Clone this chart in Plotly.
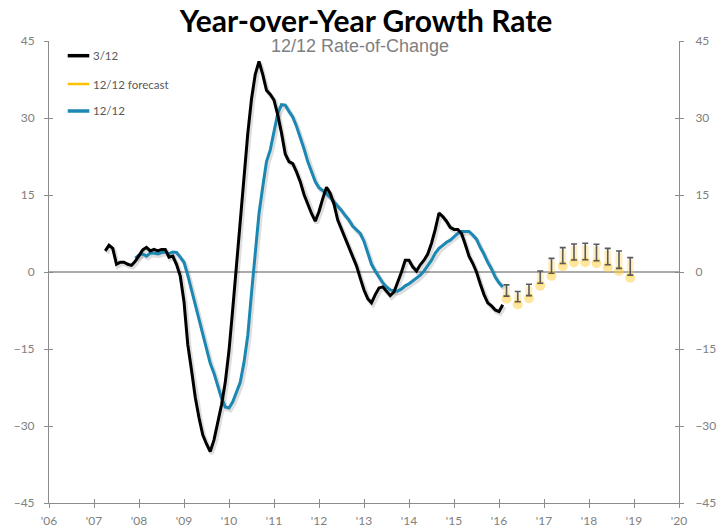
import plotly.graph_objects as go
import pandas as pd

# ---------------- data ----------------
years = list(range(2006, 2021))
year_labels = ["'06", "'07", "'08", "'09", "'10", "'11", "'12", "'13", "'14",
               "'15", "'16", "'17", "'18", "'19", "'20"]

black_start = "2007-04"
black_312 = [
    4.1, 5.2, 4.6, 1.5, 1.9, 1.9, 1.5, 1.3, 2.1,                               # 2007 Apr-Dec
    3.1, 4.3, 4.8, 4.1, 4.4, 4.1, 4.4, 4.4, 2.9, 3.1, 1.5, -0.8,                # 2008
    -5.8, -14.1, -19.1, -24.4, -28.4, -31.7, -33.5, -35.0, -32.7, -29.6, -25.9, -21.5,  # 2009
    -15.3, -7.2, 1.5, 10.3, 19.5, 26.9, 33.7, 38.5, 41.0, 38.5, 35.4, 34.6,     # 2010
    33.5, 30.6, 27.1, 23.0, 21.5, 21.1, 19.5, 17.6, 15.1, 13.2, 11.4, 9.9,      # 2011
    11.8, 14.3, 16.5, 15.3, 13.2, 10.1, 8.3, 6.8, 4.8, 2.9, 1.2, -1.2,          # 2012
    -3.5, -5.2, -6.0, -4.4, -3.1, -2.9, -3.7, -4.6, -3.9, -2.1, 0.0, 2.3,       # 2013
    2.3, 1.0, 0.2, 1.4, 2.3, 3.5, 5.6, 8.3, 11.5, 10.8, 9.9, 8.7,               # 2014
    8.3, 8.3, 7.5, 5.4, 3.1, 1.7, 0.0, -2.3, -4.4, -6.0, -6.6, -7.4,            # 2015
    -7.7, -6.4,                                                                 # 2016 Jan-Feb
]

blue_start = "2007-12"
blue_1212 = [
    2.7,                                                                        # 2007 Dec
    3.3, 3.5, 3.1, 3.7, 3.7, 3.5, 3.8, 3.9, 3.6, 3.9, 3.8, 2.9,                 # 2008
    1.9, -0.6, -3.5, -6.0, -9.1, -12.0, -15.1, -17.8, -19.7, -22.2, -24.6, -26.3,  # 2009
    -26.5, -25.3, -23.4, -21.5, -17.6, -12.4, -4.1, 4.1, 11.4, 16.6, 21.5, 23.8,   # 2010
    27.7, 30.9, 32.6, 32.5, 31.3, 30.2, 28.4, 26.3, 24.0, 21.5, 19.5, 17.6,     # 2011
    16.4, 15.9, 15.3, 14.5, 13.7, 13.0, 12.0, 11.0, 10.1, 8.9, 8.1, 7.5,        # 2012
    6.0, 3.7, 1.5, 0.2, -1.0, -2.1, -2.9, -3.5, -3.7, -3.7, -3.3, -2.7,         # 2013
    -2.3, -1.7, -1.2, -0.6, 0.2, 1.2, 2.3, 3.7, 4.6, 5.2, 5.8, 6.2,             # 2014
    6.8, 7.5, 7.9, 7.9, 7.9, 7.2, 6.4, 4.8, 3.5, 1.9, 0.6, -1.0,                # 2015
    -2.1, -2.9,                                                                 # 2016 Jan-Feb
]

forecast_months = ["2016-03", "2016-06", "2016-09", "2016-12",
                   "2017-03", "2017-06", "2017-09", "2017-12",
                   "2018-03", "2018-06", "2018-09", "2018-12"]
forecast_1212 = [-3.6, -4.8, -3.5, -1.0, 1.2, 3.2, 3.9, 4.0, 3.8, 3.0, 2.4, 1.1]
forecast_band = [1.1, 1.0, 1.1, 1.2, 1.45, 1.55, 1.55, 1.6, 1.6, 1.6, 1.7, 1.7]

y_ticks = [-45, -30, -15, 0, 15, 30, 45]
legend_names = ["3/12", "12/12 forecast", "12/12"]


# ---------------- helpers ----------------
def dec_year(dates):
    d = pd.to_datetime(dates)
    return [t.year + (t.month - 1) / 12 for t in d]


x_black = dec_year(pd.date_range(black_start, periods=len(black_312), freq="MS"))
x_blue = dec_year(pd.date_range(blue_start, periods=len(blue_1212), freq="MS"))
x_fc = dec_year(forecast_months)

W, H = 720, 529
ML, MR, MT, MB = 49, 41, 41, 26
PW, PH = W - ML - MR, H - MT - MB


def px_x(px):
    return (px - ML) / PW


def px_y(py):
    return (H - MB - py) / PH


BLACK = "#000000"
BLUE = "#1B87B3"
GOLD = "#FFC000"
AX = "#8C8C8C"
LBL = "#808080"
FONT = "Lato, Carlito, Calibri, sans-serif"

# shadow offsets (about 1.5 px right, 2 px down)
sdx = 1.5 * 14 / PW
sdy = 2.0 * 90 / PH

fig = go.Figure()

# drop shadows
for xs, ys in ((x_blue, blue_1212), (x_black, black_312)):
    fig.add_trace(go.Scatter(
        x=[v + sdx for v in xs], y=[v - sdy for v in ys], mode="lines",
        line=dict(color="rgba(0,0,0,0.13)", width=4.5), hoverinfo="skip",
        showlegend=False))

fig.add_trace(go.Scatter(x=x_blue, y=blue_1212, mode="lines", name=legend_names[2],
                         line=dict(color=BLUE, width=3), showlegend=False))
fig.add_trace(go.Scatter(x=x_black, y=black_312, mode="lines", name=legend_names[0],
                         line=dict(color=BLACK, width=3), showlegend=False))

# forecast glow
fig.add_trace(go.Scatter(
    x=x_fc, y=[c - 0.4 for c in forecast_1212], mode="markers",
    marker=dict(size=1, color="rgba(0,0,0,0)"),
    error_y=dict(type="data", array=forecast_band, color="rgba(255,205,70,0.32)",
                 thickness=7, width=0),
    hoverinfo="skip", showlegend=False))
fig.add_trace(go.Scatter(
    x=x_fc, y=[c - b - 0.5 for c, b in zip(forecast_1212, forecast_band)],
    mode="markers",
    marker=dict(size=10, color="rgba(255,205,60,0.5)", line=dict(width=0)),
    hoverinfo="skip", showlegend=False))
# forecast bars
fig.add_trace(go.Scatter(
    x=x_fc, y=forecast_1212, mode="markers", name=legend_names[1],
    marker=dict(size=1, color="rgba(0,0,0,0)"),
    error_y=dict(type="data", array=forecast_band, color="#5A5A5A",
                 thickness=1.6, width=3),
    showlegend=False))

# dummy traces to activate the overlay axes
for xa, ya in (("x2", "y2"), ("x2", "y3"), ("x2", "y4")):
    fig.add_trace(go.Scatter(x=[2006.0], y=[0.0], mode="markers", xaxis=xa, yaxis=ya,
                             marker=dict(size=1, color="rgba(0,0,0,0)"),
                             hoverinfo="skip", showlegend=False))

tick_font = dict(family=FONT, size=12, color=LBL)
common_y = dict(range=[-45, 45], tickvals=y_ticks, showgrid=False, zeroline=False,
                tickcolor=AX, ticklen=4, tickwidth=1, tickfont=tick_font,
                automargin=False)

fig.update_layout(
    width=W, height=H, margin=dict(l=ML, r=MR, t=MT, b=MB, autoexpand=False),
    paper_bgcolor="white", plot_bgcolor="white", showlegend=False,
    xaxis=dict(range=[2006, 2020], tickvals=years, ticktext=year_labels,
               showgrid=False, zeroline=False, showline=True, linecolor=AX,
               linewidth=1, ticks="outside", ticklen=4, tickcolor=AX,
               tickfont=tick_font, ticklabelstandoff=3, automargin=False),
    xaxis2=dict(range=[2006, 2020], overlaying="x", anchor="y", side="bottom",
                tickvals=years, ticks="inside", ticklen=4, tickcolor=AX,
                showticklabels=False, showgrid=False, zeroline=False, showline=False,
                automargin=False),
    yaxis=dict(range=[-45, 45], tickvals=y_ticks, showgrid=False,
               zeroline=True, zerolinecolor="#ABABAB", zerolinewidth=1.5,
               showline=True, linecolor=AX, linewidth=1, ticks="outside", ticklen=4,
               tickcolor=AX, tickfont=tick_font, ticklabelstandoff=7,
               automargin=False),
    yaxis2=dict(**common_y, overlaying="y", side="right", anchor="x2", showline=True,
                linecolor=AX, linewidth=1, ticks="outside", ticklabelstandoff=9),
    yaxis3=dict(**common_y, overlaying="y", side="left", anchor="x2", showline=False,
                ticks="inside", showticklabels=False),
    yaxis4=dict(**common_y, overlaying="y", side="right", anchor="x2", showline=False,
                ticks="inside", showticklabels=False),
    title=dict(text="<b>Year-over-Year Growth Rate</b>", x=366 / W, xanchor="center",
               y=1 - 21 / H, yanchor="middle", yref="container",
               font=dict(family=FONT, size=30, color="#000000")),
)

fig.add_annotation(text="12/12 Rate-of-Change", xref="paper", yref="paper",
                   x=px_x(360), y=px_y(46), xanchor="center", yanchor="middle",
                   showarrow=False,
                   font=dict(family="Liberation Sans, Arial, sans-serif", size=18,
                             color="#7F7F7F"))

# manual legend
leg_rows = [55.7, 84.0, 111.0]
leg_colors = [BLACK, GOLD, BLUE]
leg_widths = [3.5, 2.5, 3.5]
for name, row, col, lw in zip(legend_names, leg_rows, leg_colors, leg_widths):
    fig.add_shape(type="line", xref="paper", yref="paper",
                  x0=px_x(67.7), x1=px_x(89.3), y0=px_y(row), y1=px_y(row),
                  line=dict(color=col, width=lw))
    fig.add_annotation(text=name, xref="paper", yref="paper", x=px_x(90.5),
                       y=px_y(row), xanchor="left", yanchor="middle", showarrow=False,
                       font=dict(family=FONT, size=11.5, color="#595959"))

fig.write_html("out.html")
